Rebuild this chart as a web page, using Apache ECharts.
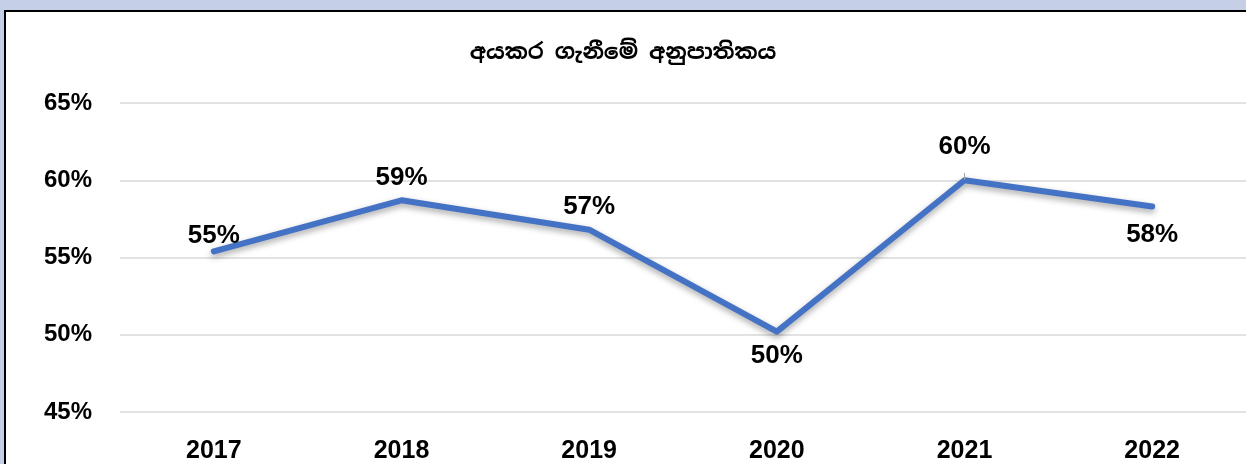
<!DOCTYPE html>
<html>
<head>
<meta charset="utf-8">
<script src="https://cdn.jsdelivr.net/npm/echarts@6/dist/echarts.min.js"></script>
<style>
  html, body { margin: 0; padding: 0; background: #c5d0e6; overflow: hidden; }
  #chart { position: absolute; left: 0; top: 0; width: 100vw; height: 100vh; }
</style>
</head>
<body>
<div id="chart"></div>
<script>
const titleText = 'අයකර ගැනීමේ අනුපාතිකය'
const years = ['2017', '2018', '2019', '2020', '2021', '2022']
const ratios = [55.4, 58.7, 56.8, 50.2, 60.0, 58.3]
const labelTexts = ['55%', '59%', '57%', '50%', '60%', '58%']
const labelSides = ['top', 'top', 'top', 'bottom', 'top', 'bottom']

// label spacing from the line, per point
const labelGaps = [2, 9, 9, 11, 20, 15]
const fontFamily = '"Liberation Sans", Arial, sans-serif'

const chart = echarts.init(document.getElementById('chart'), null, { renderer: 'canvas' })

const seriesData = ratios.map((v, i) => {
  const item = {
    value: v,
    label: {
      position: labelSides[i],
      distance: labelGaps[i],
      formatter: labelTexts[i]
    }
  }
  if (i === 4) {
    item.labelLine = { show: true, length2: 0, lineStyle: { color: '#a6a6a6', width: 1 } }
  }
  return item
})

chart.setOption({
  backgroundColor: 'transparent',
  animation: false,
  graphic: [
    {
      type: 'rect',
      silent: true,
      z: -10,
      shape: { x: 4, y: 10, width: 1400, height: 600 },
      style: { fill: '#fff' }
    },
    {
      type: 'polyline',
      silent: true,
      z: -9,
      shape: { points: [[5, 600], [5, 11], [1400, 11]] },
      style: { fill: null, stroke: '#000', lineWidth: 2 }
    }
  ],
  title: {
    text: titleText,
    left: 'center',
    top: 37,
    textStyle: {
      fontFamily: '"Noto Sans Sinhala", "Iskoola Pota", sans-serif',
      fontSize: 22,
      fontWeight: 'bold',
      color: '#000'
    }
  },
  grid: {
    left: 120,
    top: 103,
    width: 1129,
    height: 310
  },
  xAxis: {
    type: 'category',
    data: years,
    boundaryGap: true,
    axisLine: { show: false },
    axisTick: { show: false },
    axisLabel: {
      margin: 27,
      fontFamily,
      fontSize: 25,
      fontWeight: 'bold',
      color: '#000'
    }
  },
  yAxis: {
    type: 'value',
    min: 45,
    max: 65,
    interval: 5,
    axisLine: { show: false },
    axisTick: { show: false },
    splitLine: { lineStyle: { color: '#d9d9d9', width: 1.5 } },
    axisLabel: {
      margin: 28,
      formatter: '{value}%',
      fontFamily,
      fontSize: 24,
      fontWeight: 'bold',
      color: '#000'
    }
  },
  series: [
    {
      type: 'line',
      data: seriesData,
      symbol: 'circle',
      symbolSize: 1,
      showSymbol: true,
      itemStyle: { color: 'rgba(0, 0, 0, 0)' },
      lineStyle: {
        color: '#4472c4',
        width: 6,
        cap: 'round',
        join: 'round',
        shadowColor: 'rgba(0, 0, 0, 0.35)',
        shadowBlur: 6,
        shadowOffsetY: 3
      },
      label: {
        show: true,
        fontFamily,
        fontSize: 26,
        fontWeight: 'bold',
        color: '#000'
      }
    }
  ]
})
</script>
</body>
</html>
